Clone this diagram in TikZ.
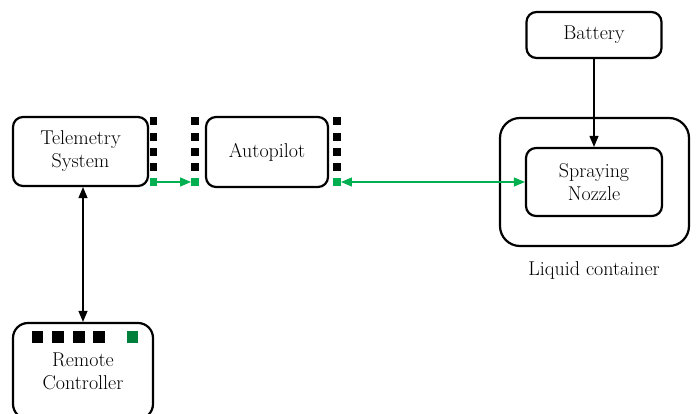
\documentclass[tikz,border=0pt]{standalone}
\usepackage{xcolor}
\usetikzlibrary{arrows.meta,positioning}
\definecolor{linkgreen}{HTML}{00B050}
\definecolor{rcgreen}{HTML}{00803A}

\tikzset{
  block/.style={draw,line width=2.2pt,rounded corners=10pt,align=center,
    inner sep=0pt,font=\fontsize{20}{23}\selectfont},
  port/.style={fill=black,minimum size=7.5pt,inner sep=0pt},
  gport/.style={port,fill=linkgreen},
  link/.style={line width=1.1pt},
  tip/.style={-{Triangle[length=11pt,width=9pt]}}
}

\begin{document}
\begin{tikzpicture}[x=1pt,y=-1pt]
  \useasboundingbox (0,0) rectangle (697,414);
  % main blocks
  \node[block,minimum width=135pt,minimum height=69pt] (tel) at (80.5,151.5) {Telemetry\\System};
  \node[block,minimum width=122pt,minimum height=70pt] (auto) at (267,152) {Autopilot};
  \node[block,minimum width=135pt,minimum height=46pt] (bat) at (594,35) {Battery};
  \node[block,rounded corners=20pt,minimum width=189pt,minimum height=128pt] (cont) at (594.5,182) {};
  \node[block,minimum width=136pt,minimum height=68pt] (noz) at (594,182) {Spraying\\Nozzle};
  \node[block,rounded corners=15pt,minimum width=140pt,minimum height=96pt] (rc) at (83,371) {Remote\\Controller};
  \node[font=\fontsize{20}{23}\selectfont] (contlbl) at (594,271) {Liquid container};
  % port columns
  \foreach \i/\y in {1/121,2/137,3/152,4/167} {
    \node[port] (tp\i) at (153.5,\y) {};
    \node[port] (al\i) at (195,\y) {};
    \node[port] (ar\i) at (337,\y) {};
  }
  \node[gport] (tp5) at (153.5,182) {};
  \node[gport] (al5) at (195,182) {};
  \node[gport] (ar5) at (337,182) {};
  % remote controller buttons
  \foreach \i/\x in {1/37.5,2/58,3/79,4/99} {
    \node[port,minimum size=11.5pt] (rb\i) at (\x,337) {};
  }
  \node[port,fill=rcgreen,minimum size=11.5pt] (rb5) at (132.5,337) {};
  % connectors
  \draw[link,linkgreen,-{Triangle[length=11pt,width=9pt]}] (tp5.east) -- (al5.west);
  \draw[link,linkgreen,{Triangle[length=11pt,width=9pt]}-{Triangle[length=11pt,width=9pt]}] (ar5.east) -- (noz.west);
  \draw[link,tip] (bat) -- (noz);
  \draw[link,{Triangle[length=11pt,width=9pt]}-{Triangle[length=11pt,width=9pt]}] (rc.north |- tel.south) -- (rc.north);
\end{tikzpicture}
\end{document}
